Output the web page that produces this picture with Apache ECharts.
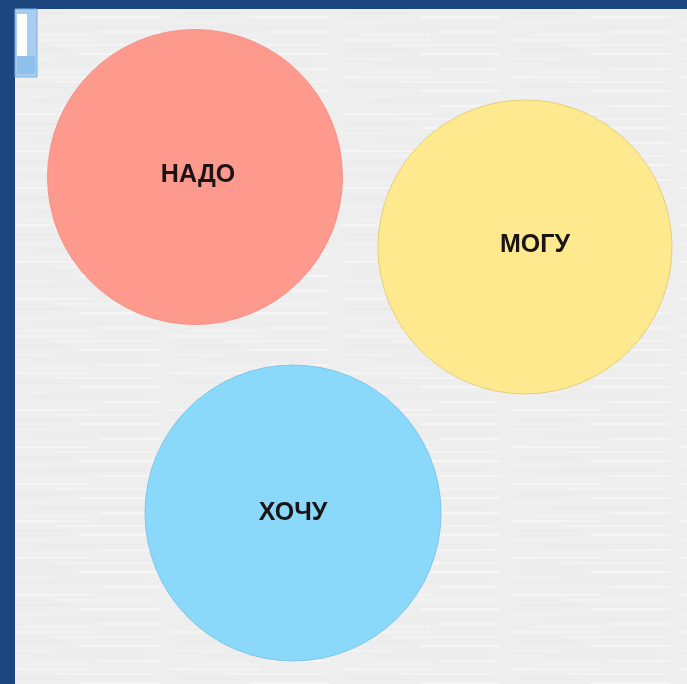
<!DOCTYPE html>
<html>
<head>
<meta charset="utf-8">
<script src="https://cdn.jsdelivr.net/npm/echarts@6/dist/echarts.min.js"></script>
<style>
  html, body { margin: 0; padding: 0; background: #1e467e; }
  #chart { width: 687px; height: 684px; }
</style>
</head>
<body>
<div id="chart"></div>
<script>
  const labels = ["НАДО", "МОГУ", "ХОЧУ"];
  const centerX = [195, 525, 293];
  const centerY = [177, 247, 513];
  const diameters = [295, 294, 296];

  const fills = ["#fd998d", "#fee98f", "#8ad8fa"];
  const borders = ["#f5948a", "#e3cf7c", "#7ec6ea"];
  const labelNudge = [[3, -2], [10, -2], [0, 0]];

  // light paper texture with faint horizontal streaks
  function makeTexture() {
    const c = document.createElement("canvas");
    c.width = 170;
    c.height = 37;
    const ctx = c.getContext("2d");
    ctx.fillStyle = "#eeeeee";
    ctx.fillRect(0, 0, 170, 37);
    const streaks = [[0, 2, 90, "#f4f4f4"], [55, 7, 100, "#f3f3f3"], [10, 12, 60, "#eaeaea"],
      [80, 16, 80, "#f5f5f5"], [0, 21, 50, "#f2f2f2"], [35, 26, 110, "#ebebeb"],
      [100, 31, 60, "#f4f4f4"], [20, 34, 70, "#f1f1f1"]];
    streaks.forEach(([x, y, w, col]) => {
      ctx.fillStyle = col;
      ctx.fillRect(x, y, w, 2);
    });
    return c;
  }

  const chart = echarts.init(document.getElementById("chart"));
  const options = {
    backgroundColor: "#1e467e",
    animation: false,
    grid: { left: 15, top: 9, right: 0, bottom: 0, show: true, borderWidth: 0,
      backgroundColor: { image: makeTexture(), repeat: "repeat" } },
    xAxis: { type: "value", min: 15, max: 687, show: false },
    yAxis: { type: "value", min: 9, max: 684, inverse: true, show: false },
    graphic: [
      { type: "rect", shape: { x: 15, y: 9, width: 22, height: 68 },
        style: { fill: "#a8cdee", stroke: "#79aedf", lineWidth: 1 } },
      { type: "rect", shape: { x: 17, y: 14, width: 10, height: 42 },
        style: { fill: "#ffffff" } },
      { type: "rect", shape: { x: 17, y: 56, width: 18, height: 18 },
        style: { fill: "#8fc0ec" } }
    ],
    series: [{
      type: "scatter",
      data: labels.map((name, i) => ({
        name: name,
        value: [centerX[i], centerY[i]],
        symbolSize: diameters[i],
        itemStyle: { color: fills[i], borderColor: borders[i], borderWidth: 1, opacity: 1 },
        label: { offset: labelNudge[i] }
      })),
      label: {
        show: true,
        position: "inside",
        formatter: "{b}",
        fontFamily: "Liberation Sans, Arial, sans-serif",
        fontWeight: "bold",
        fontSize: 25,
        color: "#1a1414"
      },
      emphasis: { disabled: true }
    }]
  };
  chart.setOption(options);
  window.addEventListener("resize", chart.resize);
</script>
</body>
</html>
